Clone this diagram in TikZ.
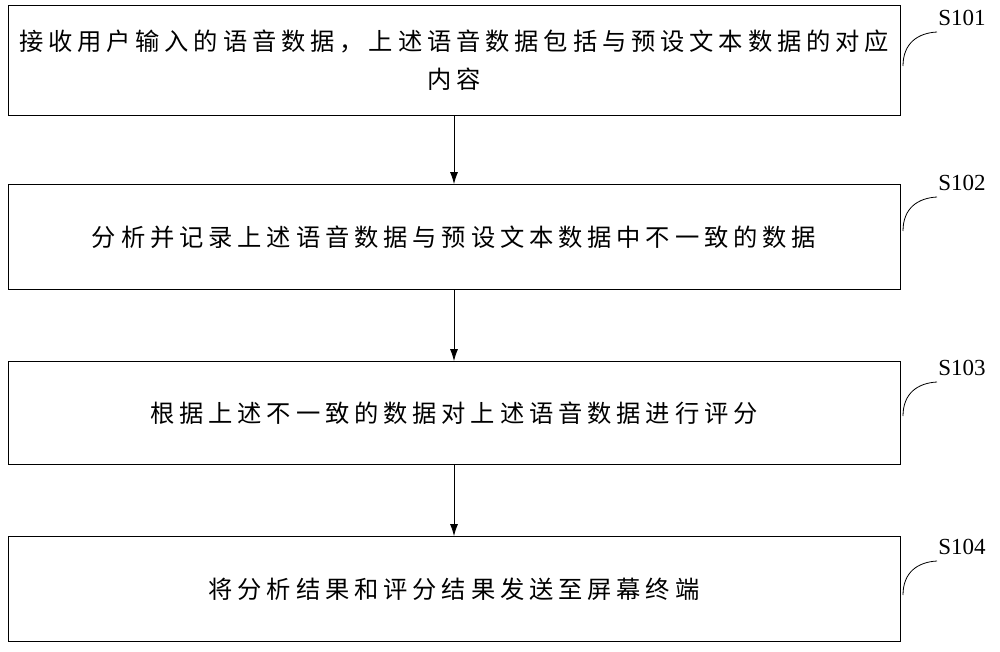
\documentclass[tikz,border=0pt]{standalone}
\usepackage{fontspec}
\usetikzlibrary{arrows.meta}
\newfontfamily\cjk[LetterSpace=20]{Noto Sans CJK SC}
\newfontfamily\lab{Liberation Serif}
\begin{document}
\begin{tikzpicture}[x=1pt,y=-1pt,
 box/.style={draw,thick,minimum width=892pt,inner sep=0pt,align=center,font=\cjk\fontsize{24.3}{38}\selectfont},
 lbl/.style={font=\lab\fontsize{23}{25}\selectfont},
 arr/.style={-{Latex[length=12pt,width=8pt]},thick}]
\useasboundingbox (0,0) rectangle (1000,652);
\node[box,minimum height=110pt] (b1) at (454,60) {接收用户输入的语音数据，上述语音数据包括与预设文本数据的对应\\内容};
\node[box,minimum height=105pt] (b2) at (454,237) {分析并记录上述语音数据与预设文本数据中不一致的数据};
\node[box,minimum height=103pt] (b3) at (454,413) {根据上述不一致的数据对上述语音数据进行评分};
\node[box,minimum height=105pt] (b4) at (454,589) {将分析结果和评分结果发送至屏幕终端};
\draw[arr] (b1) -- (b2);
\draw[arr] (b2) -- (b3);
\draw[arr] (b3) -- (b4);
\foreach \n/\t/\y in {1/S101/18,2/S102/183,3/S103/368,4/S104/547}{
 \node[lbl] (s\n) at (962,\y) {\t};
 \coordinate (c\n) at (903,\y+48);
 \draw[thick] (c\n) .. controls (903,\y+25) and (918,\y+15) .. (937,\y+14);
}
\end{tikzpicture}
\end{document}
